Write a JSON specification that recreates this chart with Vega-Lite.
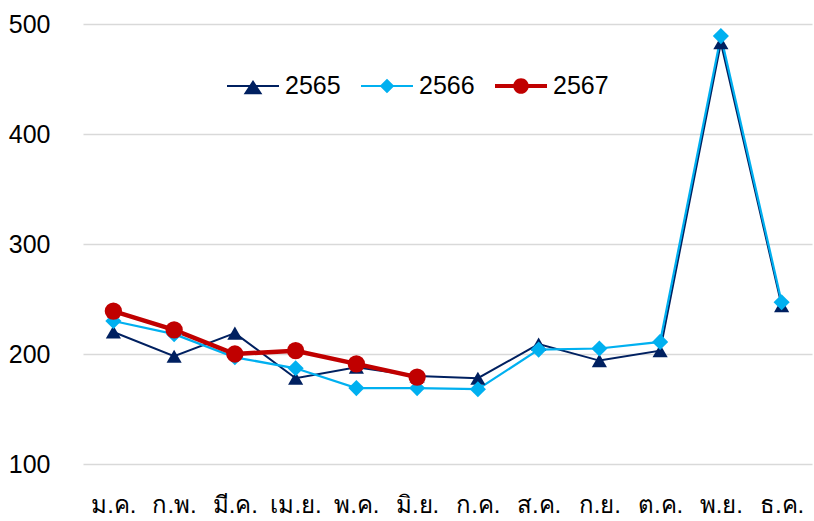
{
  "$schema": "https://vega.github.io/schema/vega-lite/v6.json",
  "autosize": "none",
  "width": 729,
  "height": 440,
  "padding": {"left": 83, "top": 24, "right": 2, "bottom": 57},
  "background": "white",
  "config": {
    "view": {"stroke": null},
    "font": "Liberation Sans",
    "axis": {"labelFont": "Liberation Sans", "labelColor": "#000000"}
  },
  "data": {
    "values": [
      {"month": "ม.ค.", "year": "2565", "value": 220},
      {"month": "ก.พ.", "year": "2565", "value": 198},
      {"month": "มี.ค.", "year": "2565", "value": 219},
      {"month": "เม.ย.", "year": "2565", "value": 178},
      {"month": "พ.ค.", "year": "2565", "value": 188},
      {"month": "มิ.ย.", "year": "2565", "value": 180},
      {"month": "ก.ค.", "year": "2565", "value": 178},
      {"month": "ส.ค.", "year": "2565", "value": 209},
      {"month": "ก.ย.", "year": "2565", "value": 194},
      {"month": "ต.ค.", "year": "2565", "value": 203},
      {"month": "พ.ย.", "year": "2565", "value": 483},
      {"month": "ธ.ค.", "year": "2565", "value": 244},
      {"month": "ม.ค.", "year": "2566", "value": 230},
      {"month": "ก.พ.", "year": "2566", "value": 218},
      {"month": "มี.ค.", "year": "2566", "value": 197},
      {"month": "เม.ย.", "year": "2566", "value": 187},
      {"month": "พ.ค.", "year": "2566", "value": 169},
      {"month": "มิ.ย.", "year": "2566", "value": 169},
      {"month": "ก.ค.", "year": "2566", "value": 168},
      {"month": "ส.ค.", "year": "2566", "value": 204},
      {"month": "ก.ย.", "year": "2566", "value": 205},
      {"month": "ต.ค.", "year": "2566", "value": 211},
      {"month": "พ.ย.", "year": "2566", "value": 489},
      {"month": "ธ.ค.", "year": "2566", "value": 247},
      {"month": "ม.ค.", "year": "2567", "value": 239},
      {"month": "ก.พ.", "year": "2567", "value": 222},
      {"month": "มี.ค.", "year": "2567", "value": 200},
      {"month": "เม.ย.", "year": "2567", "value": 203},
      {"month": "พ.ค.", "year": "2567", "value": 191},
      {"month": "มิ.ย.", "year": "2567", "value": 179}
    ]
  },
  "encoding": {
    "x": {
      "field": "month",
      "type": "nominal",
      "sort": ["ม.ค.", "ก.พ.", "มี.ค.", "เม.ย.", "พ.ค.", "มิ.ย.", "ก.ค.", "ส.ค.", "ก.ย.", "ต.ค.", "พ.ย.", "ธ.ค."],
      "scale": {"type": "point", "padding": 0.5},
      "axis": {"title": null, "ticks": false, "domain": false, "grid": false, "labelAngle": 0, "labelFontSize": 24, "labelPadding": 29, "labelBaseline": "top"}
    },
    "y": {
      "field": "value",
      "type": "quantitative",
      "scale": {"domain": [100, 500], "nice": false, "zero": false},
      "axis": {"title": null, "values": [100, 200, 300, 400, 500], "ticks": false, "domain": false, "gridColor": "#d9d9d9", "gridWidth": 1.6, "labelFontSize": 25, "labelPadding": 33}
    }
  },
  "resolve": {"scale": {"color": "independent"}, "legend": {"color": "independent"}},
  "layer": [
    {
      "mark": {"type": "line"},
      "encoding": {
        "color": {
          "field": "year",
          "type": "nominal",
          "scale": {"domain": ["2565", "2566", "2567"], "range": ["#002060", "#00B0F0", "#C00000"]},
          "legend": {
            "orient": "none",
            "legendX": 144,
            "legendY": 36,
            "direction": "horizontal",
            "title": null,
            "symbolSize": 2704,
            "labelFontSize": 25,
            "labelColor": "#000000",
            "labelOffset": 6,
            "columnPadding": 20,
            "encode": {
              "symbols": {
                "update": {
                  "shape": {"signal": "datum.value === '2565' ? 'M-1,-0.04H1V0.04H-1Z M0,-0.23L0.36,0.32L-0.36,0.32Z' : datum.value === '2566' ? 'M-1,-0.04H1V0.04H-1Z M0,-0.28L0.28,0L0,0.28L-0.28,0Z' : 'M-1,-0.08H1V0.08H-1Z M-0.3,0A0.3,0.3 0 1,1 0.3,0A0.3,0.3 0 1,1 -0.3,0Z'"},
                  "fill": {"signal": "datum.value === '2565' ? '#002060' : datum.value === '2566' ? '#00B0F0' : '#C00000'"},
                  "stroke": {"value": "transparent"},
                  "strokeWidth": {"value": 0},
                  "opacity": {"value": 1}
                }
              }
            }
          }
        },
        "strokeWidth": {
          "field": "year",
          "type": "ordinal",
          "scale": {"type": "ordinal", "domain": ["2565", "2566", "2567"], "range": [2, 2.25, 4.5]},
          "legend": null
        }
      }
    },
    {
      "mark": {"type": "point", "filled": true, "opacity": 1},
      "encoding": {
        "color": {
          "field": "year",
          "type": "nominal",
          "scale": {"domain": ["2565", "2566", "2567"], "range": ["#002060", "#00B0F0", "#C00000"]},
          "legend": null
        },
        "shape": {
          "field": "year",
          "type": "nominal",
          "scale": {"domain": ["2565", "2566", "2567"], "range": ["triangle-up", "diamond", "circle"]},
          "legend": null
        },
        "size": {
          "field": "year",
          "type": "ordinal",
          "scale": {"type": "ordinal", "domain": ["2565", "2566", "2567"], "range": [230, 260, 300]},
          "legend": null
        }
      }
    }
  ]
}
